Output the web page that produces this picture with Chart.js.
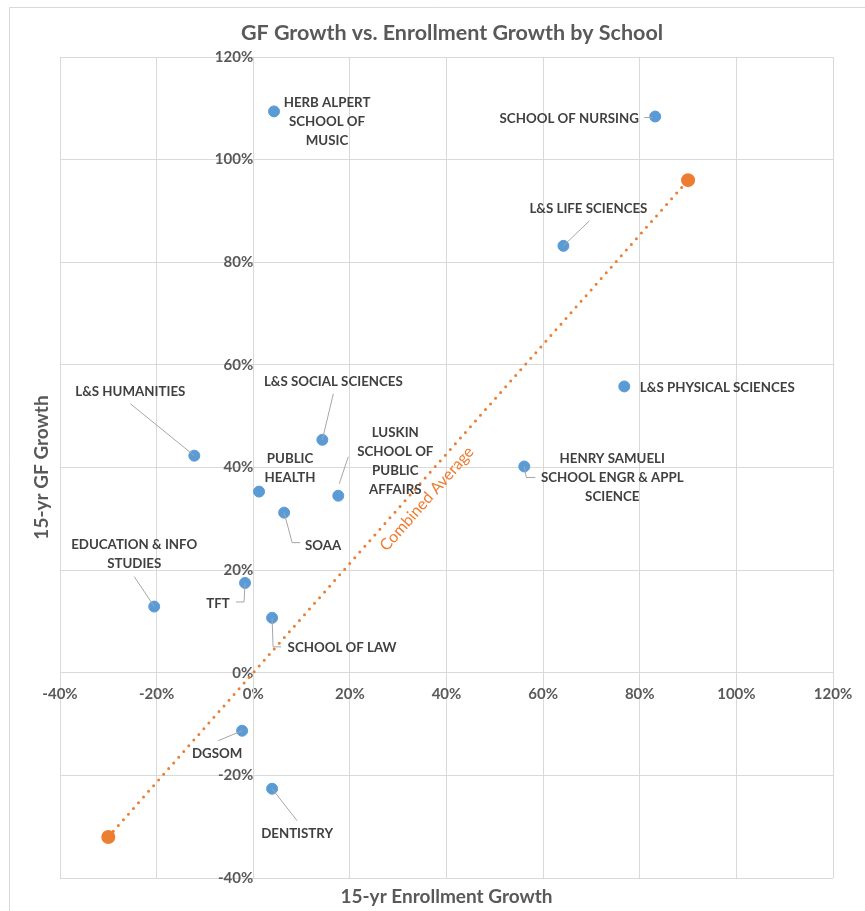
<!DOCTYPE html>
<html>
<head>
<meta charset="utf-8">
<script src="https://cdn.jsdelivr.net/npm/chart.js@4.4.0/dist/chart.umd.min.js"></script>
<style>
  html, body { margin: 0; padding: 0; background: #fff; }
  #wrap { width: 865px; height: 911px; }
</style>
</head>
<body>
<div id="wrap"><canvas id="grafica" width="865" height="911"></canvas></div>
<script>
// datos
const escuelas = [
  'HERB ALPERT\nSCHOOL OF\nMUSIC', 'SCHOOL OF NURSING', 'L&S LIFE SCIENCES', 'L&S PHYSICAL SCIENCES',
  'HENRY SAMUELI\nSCHOOL ENGR & APPL\nSCIENCE', 'L&S HUMANITIES', 'L&S SOCIAL SCIENCES',
  'LUSKIN\nSCHOOL OF\nPUBLIC\nAFFAIRS', 'PUBLIC\nHEALTH', 'SOAA', 'EDUCATION & INFO\nSTUDIES',
  'TFT', 'SCHOOL OF LAW', 'DGSOM', 'DENTISTRY'
];
const crecMatricula = [4.3, 83.2, 64.2, 76.8, 56.1, -12.2, 14.3, 17.6, 1.2, 6.4, -20.5, -1.7, 3.9, -2.3, 3.9];
const crecGF = [109.4, 108.4, 83.2, 55.8, 40.2, 42.3, 45.4, 34.5, 35.3, 31.2, 12.9, 17.5, 10.7, -11.3, -22.6];
const promedioX = [-30, 90];
const promedioY = [-32, 96];
const ticksX = [-40, -20, 0, 20, 40, 60, 80, 100, 120];
const ticksY = [-40, -20, 0, 20, 40, 60, 80, 100, 120];

// posicion de cada etiqueta respecto a su punto (px) y lineas guia
const etiquetasPos = [
  { dx: 53, dy: 10 },
  { dx: -86, dy: 2, guia: [[-3, 1], [-11, 1]] },
  { dx: 25, dy: -37, guia: [[0, 0], [26, -25]] },
  { dx: 93, dy: 1 },
  { dx: 88, dy: 11, guia: [[0, 0], [2, 11], [11, 11]] },
  { dx: -64, dy: -64, guia: [[0, 0], [-64, -52]] },
  { dx: 11, dy: -58, guia: [[0, 0], [11, -46]] },
  { dx: 57, dy: -35, guia: [[1, -12], [10, -39]] },
  { dx: 31, dy: -23 },
  { dx: 39, dy: 33, guia: [[0, 0], [8, 30], [16, 30]] },
  { dx: -20, dy: -52, guia: [[0, 0], [-20, -30]] },
  { dx: -27, dy: 21, guia: [[0, 0], [-1, 19], [-9, 19]] },
  { dx: 70, dy: 30, guia: [[0, 0], [1, 29], [9, 29]] },
  { dx: -25, dy: 23, guia: [[0, 0], [-24, 10]] },
  { dx: 25, dy: 45, guia: [[0, 0], [25, 32]] }
];

const fuente = 'Lato, "Open Sans", sans-serif';
const gris = '#595959';
const rejilla = '#d9d9d9';

const puntos = escuelas.map(function(e, i) {
  return { x: crecMatricula[i], y: crecGF[i] };
});
const lineaPromedio = promedioX.map(function(v, i) {
  return { x: v, y: promedioY[i] };
});

// plugin para titulo, marco, titulos de ejes y etiquetas
const dibujoExtra = {
  id: 'dibujoExtra',
  beforeDraw(chart) {
    const ctx = chart.ctx;
    ctx.save();
    ctx.strokeStyle = rejilla;
    ctx.lineWidth = 1;
    ctx.beginPath();
    ctx.moveTo(9.5, 920);
    ctx.lineTo(9.5, 7.5);
    ctx.lineTo(870, 7.5);
    ctx.stroke();
    ctx.restore();
  },
  afterDatasetsDraw(chart) {
    const ctx = chart.ctx;
    const area = chart.chartArea;
    ctx.save();
    // titulo
    ctx.fillStyle = gris;
    ctx.textAlign = 'center';
    ctx.textBaseline = 'middle';
    ctx.font = 'bold 21.5px ' + fuente;
    ctx.fillText('GF Growth vs. Enrollment Growth by School', 452, 33);
    // titulos de ejes
    ctx.font = 'bold 19px ' + fuente;
    ctx.fillText('15-yr Enrollment Growth', (area.left + area.right) / 2, 897);
    ctx.save();
    ctx.translate(42, (area.top + area.bottom) / 2);
    ctx.rotate(-Math.PI / 2);
    ctx.fillText('15-yr GF Growth', 0, 0);
    ctx.restore();

    // etiquetas de escuelas
    const meta = chart.getDatasetMeta(0);
    ctx.font = 'bold 13.3px ' + fuente;
    meta.data.forEach(function(p, i) {
      const pos = etiquetasPos[i];
      if (pos.guia) {
        ctx.strokeStyle = '#a6a6a6';
        ctx.lineWidth = 1;
        ctx.beginPath();
        pos.guia.forEach(function(g, k) {
          if (k === 0) ctx.moveTo(p.x + g[0], p.y + g[1]);
          else ctx.lineTo(p.x + g[0], p.y + g[1]);
        });
        ctx.stroke();
      }
      const lineas = escuelas[i].split('\n');
      const alto = 19;
      const y0 = p.y + pos.dy - (lineas.length - 1) * alto / 2;
      ctx.fillStyle = '#404040';
      lineas.forEach(function(l, k) {
        ctx.fillText(l, p.x + pos.dx, y0 + k * alto);
      });
    });

    // etiqueta de la linea de promedio
    const m2 = chart.getDatasetMeta(1).data;
    const a = m2[0], b = m2[1];
    const len = Math.hypot(b.x - a.x, b.y - a.y);
    const ux = (b.x - a.x) / len, uy = (b.y - a.y) / len;
    const t = 0.53, d = 15;
    const cx = a.x + (b.x - a.x) * t - uy * d;
    const cy = a.y + (b.y - a.y) * t + ux * d;
    ctx.translate(cx, cy);
    ctx.rotate(Math.atan2(uy, ux));
    ctx.font = '16px ' + fuente;
    ctx.fillStyle = '#ED7D31';
    ctx.fillText('Combined Average', 0, 0);
    ctx.restore();
  }
};

const grafica = document.getElementById('grafica');

new Chart(grafica, {
  type: 'scatter',
  data: {
    datasets: [
      {
        label: 'Schools',
        data: puntos,
        backgroundColor: '#5B9BD5',
        borderColor: '#5B9BD5',
        pointRadius: 5.5,
        pointHoverRadius: 5.5
      },
      {
        label: 'Combined Average',
        data: lineaPromedio,
        showLine: true,
        borderColor: '#ED7D31',
        backgroundColor: '#ED7D31',
        borderWidth: 3,
        borderDash: [0, 7.6],
        borderCapStyle: 'round',
        pointRadius: 5.5,
        pointHoverRadius: 5.5
      }
    ]
  },
  options: {
    responsive: false,
    animation: false,
    layout: { padding: { left: 60, right: 32, top: 57, bottom: 33 } },
    plugins: {
      legend: { display: false },
      title: { display: false },
      tooltip: { enabled: false }
    },
    scales: {
      x: {
        type: 'linear',
        position: { y: 0 },
        min: ticksX[0],
        max: ticksX[ticksX.length - 1],
        afterBuildTicks: function(s) { s.ticks = ticksX.map(function(v) { return { value: v }; }); },
        grid: { color: rejilla, drawTicks: false },
        border: { color: rejilla },
        ticks: {
          padding: 12,
          color: gris,
          font: { family: fuente, size: 15, weight: 'bold' },
          maxRotation: 0,
          autoSkip: false,
          callback: function(v) { return v + '%'; }
        }
      },
      y: {
        type: 'linear',
        position: { x: 0 },
        min: ticksY[0],
        max: ticksY[ticksY.length - 1],
        afterBuildTicks: function(s) { s.ticks = ticksY.map(function(v) { return { value: v }; }); },
        grid: { color: rejilla, drawTicks: false },
        border: { color: rejilla },
        ticks: {
          padding: 15,
          color: gris,
          font: { family: fuente, size: 15, weight: 'bold' },
          autoSkip: false,
          callback: function(v) { return v + '%'; }
        }
      }
    }
  },
  plugins: [dibujoExtra]
});
</script>
</body>
</html>
